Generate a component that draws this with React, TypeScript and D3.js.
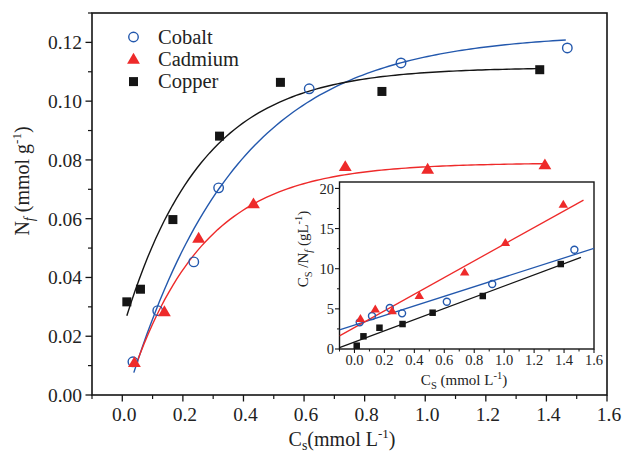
import React from "react";
import * as d3 from "d3";

// ---------- Main chart data (Cs in mmol/L, Nf in mmol/g) ----------
const cobaltCs = [0.035, 0.117, 0.236, 0.318, 0.617, 0.92, 1.469];
const cobaltNf = [0.0113, 0.0287, 0.0453, 0.0705, 0.1042, 0.113, 0.1181];
const cadmiumCs = [0.04, 0.139, 0.252, 0.433, 0.736, 1.008, 1.395];
const cadmiumNf = [0.011, 0.0283, 0.0533, 0.065, 0.0777, 0.0768, 0.0783];
const copperCs = [0.015, 0.06, 0.167, 0.321, 0.522, 0.857, 1.378];
const copperNf = [0.0317, 0.036, 0.0597, 0.0881, 0.1064, 0.1033, 0.1107];

// fitted saturation curves: Nf = a * (1 - exp(-b (Cs - c))) over [from, to]
const cobaltFit = [0.123, 2.78, 0.015, 0.038, 1.464];
const cadmiumFit = [0.079, 4.1, 0.011, 0.045, 1.395];
const copperFit = [0.1115, 3.9, -0.056, 0.015, 1.378];

// ---------- Inset data (Cs/Nf in g/L) ----------
const cobaltRatio = [3.32, 4.11, 5.1, 4.44, 5.89, 8.09, 12.36];
const cadmiumRatio = [3.77, 4.94, 4.73, 6.63, 9.55, 13.23, 18.0];
const copperRatio = [0.41, 1.58, 2.65, 3.11, 4.52, 6.6, 10.58];

// linear fits: [slope, intercept, from, to]
const cobaltLine = [5.98, 2.97, -0.1, 1.6];
const cadmiumLine = [10.37, 2.68, -0.1, 1.53];
const copperLine = [6.97, 0.87, -0.1, 1.513];

// ---------- ticks ----------
const mainXTicks = [0, 0.2, 0.4, 0.6, 0.8, 1.0, 1.2, 1.4, 1.6];
const mainXMinor = [-0.1, 0.1, 0.3, 0.5, 0.7, 0.9, 1.1, 1.3, 1.5];
const mainYTicks = [0, 0.02, 0.04, 0.06, 0.08, 0.1, 0.12];
const mainYMinor = [0.01, 0.03, 0.05, 0.07, 0.09, 0.11, 0.13];
const insetXTicks = [0, 0.2, 0.4, 0.6, 0.8, 1.0, 1.2, 1.4, 1.6];
const insetXMinor = [-0.1, 0.1, 0.3, 0.5, 0.7, 0.9, 1.1, 1.3, 1.5];
const insetYTicks = [0, 5, 10, 15, 20];
const insetYMinor = [2.5, 7.5, 12.5, 17.5];

const seriesNames = ["Cobalt", "Cadmium", "Copper"];

const BLUE = "#2358ad";
const RED = "#ee2a2a";
const BLACK = "#151515";
const FONT = "'Liberation Serif', 'DejaVu Serif', serif";

type Shape = "circle" | "triangle" | "square";

function Marker({ shape, cx, cy, s, color }: { shape: Shape; cx: number; cy: number; s: number; color: string }) {
  if (shape === "circle") {
    return <circle cx={cx} cy={cy} r={s * 0.5} fill="none" stroke={color} strokeWidth={1.4} />;
  }
  if (shape === "square") {
    return <rect x={cx - s * 0.5} y={cy - s * 0.5} width={s} height={s} fill={color} />;
  }
  const w = s * 1.35;
  const h = w * 0.85;
  const p = `M${cx},${cy - h * 0.6} L${cx + w / 2},${cy + h * 0.4} L${cx - w / 2},${cy + h * 0.4} Z`;
  return <path d={p} fill={color} />;
}

export default function App() {
  const x = d3.scaleLinear().domain([-0.1, 1.6]).range([92, 607]);
  const y = d3.scaleLinear().domain([0, 0.13]).range([395, 13]);
  const xi = d3.scaleLinear().domain([-0.1, 1.6]).range([339.5, 594]);
  const yi = d3.scaleLinear().domain([0, 20.8]).range([349, 182]);

  const fitPath = (f: number[]) => {
    const [a, b, c, from, to] = f;
    const pts = d3.range(0, 101).map((i) => from + ((to - from) * i) / 100);
    return d3
      .line<number>()
      .x((v) => x(v))
      .y((v) => y(a * (1 - Math.exp(-b * (v - c)))))(pts) as string;
  };
  const linePath = (l: number[]) => {
    const [m, q, from, to] = l;
    return d3
      .line<number>()
      .x((v) => xi(v))
      .y((v) => yi(m * v + q))([from, to]) as string;
  };

  const mainSeries = [
    { xs: cobaltCs, ys: cobaltNf, fit: cobaltFit, color: BLUE, shape: "circle" as Shape, s: 9.5 },
    { xs: cadmiumCs, ys: cadmiumNf, fit: cadmiumFit, color: RED, shape: "triangle" as Shape, s: 9.5 },
    { xs: copperCs, ys: copperNf, fit: copperFit, color: BLACK, shape: "square" as Shape, s: 9 },
  ];
  const insetSeries = [
    { xs: cobaltCs, ys: cobaltRatio, line: cobaltLine, color: BLUE, shape: "circle" as Shape, s: 7 },
    { xs: cadmiumCs, ys: cadmiumRatio, line: cadmiumLine, color: RED, shape: "triangle" as Shape, s: 7 },
    { xs: copperCs, ys: copperRatio, line: copperLine, color: BLACK, shape: "square" as Shape, s: 6.5 },
  ];

  const fmt2 = d3.format(".2f");
  const fmt1 = d3.format(".1f");

  return (
    <svg width={624} height={455} style={{ position: "absolute", left: 0, top: 0, background: "#fff" }} fontFamily={FONT}>
      <rect x={0} y={0} width={624} height={455} fill="#fff" />
      {/* main frame */}
      <rect x={92} y={13} width={515} height={382} fill="none" stroke={BLACK} strokeWidth={1.6} />
      {/* main y ticks */}
      {mainYTicks.map((t) => (
        <g key={"my" + t}>
          <line x1={92} x2={85.5} y1={y(t)} y2={y(t)} stroke={BLACK} strokeWidth={1.3} />
          <text x={82} y={y(t)} dy="0.36em" textAnchor="end" fontSize={19.5} fill="#222">
            {fmt2(t)}
          </text>
        </g>
      ))}
      {mainYMinor.map((t) => (
        <line key={"mym" + t} x1={92} x2={88} y1={y(t)} y2={y(t)} stroke={BLACK} strokeWidth={1.2} />
      ))}
      {/* main x ticks */}
      {mainXTicks.map((t) => (
        <g key={"mx" + t}>
          <line x1={x(t)} x2={x(t)} y1={395} y2={401.5} stroke={BLACK} strokeWidth={1.3} />
          <text x={x(t) + 2} y={421} textAnchor="middle" fontSize={19.5} fill="#222">
            {fmt1(t)}
          </text>
        </g>
      ))}
      {mainXMinor.map((t) => (
        <line key={"mxm" + t} x1={x(t)} x2={x(t)} y1={395} y2={399} stroke={BLACK} strokeWidth={1.2} />
      ))}
      {/* axis labels */}
      <text x={342} y={446} textAnchor="middle" fontSize={20} fill="#222">
        C<tspan fontSize={14} dy={4}>s</tspan>
        <tspan dy={-4}>(mmol L</tspan>
        <tspan fontSize={13} dy={-8}>-1</tspan>
        <tspan dy={8}>)</tspan>
      </text>
      <text transform="translate(28.5,181) rotate(-90)" textAnchor="middle" fontSize={20} fill="#222">
        N<tspan fontSize={14} dy={5} fontStyle="italic">f</tspan>
        <tspan dy={-5}> (mmol g</tspan>
        <tspan fontSize={13} dy={-8}>-1</tspan>
        <tspan dy={8}>)</tspan>
      </text>

      {/* fit curves */}
      {mainSeries.map((s, i) => (
        <path key={"fit" + i} d={fitPath(s.fit)} fill="none" stroke={s.color} strokeWidth={1.4} />
      ))}
      {/* markers */}
      {mainSeries.map((s, i) =>
        s.xs.map((v, j) => (
          <Marker key={"m" + i + "-" + j} shape={s.shape} cx={x(v)} cy={y(s.ys[j])} s={s.s} color={s.color} />
        ))
      )}

      {/* legend */}
      {mainSeries.map((s, i) => (
        <g key={"lg" + i}>
          <Marker shape={s.shape} cx={133.5} cy={37 + i * 22.3} s={s.s} color={s.color} />
          <text x={158} y={43.5 + i * 22.3} fontSize={20.5} fill="#222">
            {seriesNames[i]}
          </text>
        </g>
      ))}

      {/* inset */}
      <rect x={339.5} y={182} width={254.5} height={167} fill="#fff" stroke={BLACK} strokeWidth={1.4} />
      {insetYTicks.map((t) => (
        <g key={"iy" + t}>
          <line x1={339.5} x2={335} y1={yi(t)} y2={yi(t)} stroke={BLACK} strokeWidth={1.1} />
          <text x={334} y={yi(t)} dy="0.36em" textAnchor="end" fontSize={14.5} fill="#222">
            {t}
          </text>
        </g>
      ))}
      {insetYMinor.map((t) => (
        <line key={"iym" + t} x1={339.5} x2={337} y1={yi(t)} y2={yi(t)} stroke={BLACK} strokeWidth={1} />
      ))}
      {insetXTicks.map((t) => (
        <g key={"ix" + t}>
          <line x1={xi(t)} x2={xi(t)} y1={349} y2={353} stroke={BLACK} strokeWidth={1.1} />
          <text x={xi(t)} y={364.5} textAnchor="middle" fontSize={14.5} fill="#222">
            {fmt1(t)}
          </text>
        </g>
      ))}
      {insetXMinor.map((t) => (
        <line key={"ixm" + t} x1={xi(t)} x2={xi(t)} y1={349} y2={351.5} stroke={BLACK} strokeWidth={1} />
      ))}
      <text x={464} y={385} textAnchor="middle" fontSize={15} fill="#222">
        C<tspan fontSize={10.5} dy={4}>S</tspan>
        <tspan dy={-4}> (mmol L</tspan>
        <tspan fontSize={10.5} dy={-6}>-1</tspan>
        <tspan dy={6}>)</tspan>
      </text>
      <text transform="translate(307.5,249) rotate(-90)" textAnchor="middle" fontSize={15} fill="#222">
        C<tspan fontSize={10.5} dy={4}>S</tspan>
        <tspan dy={-4}> /N</tspan>
        <tspan fontSize={10.5} dy={4} fontStyle="italic">f</tspan>
        <tspan dy={-4}> (gL</tspan>
        <tspan fontSize={10.5} dy={-6}>-1</tspan>
        <tspan dy={6}>)</tspan>
      </text>
      <g>
        <defs>
          <clipPath id="insetClip">
            <rect x={339.5} y={182} width={254.5} height={167} />
          </clipPath>
        </defs>
        <g clipPath="url(#insetClip)">
          {insetSeries.map((s, i) => (
            <path key={"il" + i} d={linePath(s.line)} fill="none" stroke={s.color} strokeWidth={1.3} />
          ))}
        </g>
        {insetSeries.map((s, i) =>
          s.xs.map((v, j) => (
            <Marker key={"im" + i + "-" + j} shape={s.shape} cx={xi(v)} cy={yi(s.ys[j])} s={s.s} color={s.color} />
          ))
        )}
      </g>
    </svg>
  );
}
